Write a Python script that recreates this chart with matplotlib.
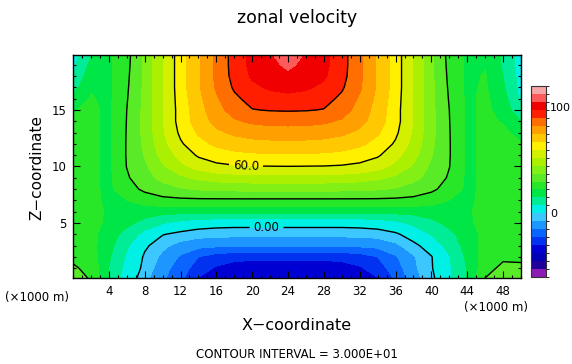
import matplotlib
matplotlib.use("Agg")
import matplotlib.pyplot as plt
import numpy as np
from matplotlib.colors import ListedColormap, BoundaryNorm
from matplotlib.ticker import MultipleLocator

# grid coordinates (x1000 m)
x_coord = [0, 2, 4, 6, 8, 10, 12, 14, 16, 18, 20, 22, 24,
           26, 28, 30, 32, 34, 36, 38, 40, 42, 44, 46, 48, 50]
z_coord = [0, 1, 2, 3, 4, 5, 6, 7, 8, 9, 10,
           11, 12, 13, 14, 15, 16, 17, 18, 19, 20]

# zonal velocity, one row per z level (bottom to top)
u_z00 = [34, 29.5, 14, 3.5, -3, -7.5, -11, -16.5, -18.5, -19.2, -19.5, -19.5, -19.5,
         -19.5, -19.5, -19.3, -18.8, -16.5, -11.5, -6, -1.5, 6, 15.5, 30.5, 35, 35]
u_z01 = [31, 28, 15, 5, -1.5, -6.5, -10, -14, -16.5, -17.6, -18, -18.2, -18.2,
         -18.2, -18, -17.6, -16.5, -14, -10, -5, -0.5, 6.5, 15.5, 27, 32, 32]
u_z02 = [28.5, 26, 16, 6.5, -0.8, -5, -8.5, -12, -14, -14.8, -15.1, -15.1, -15.1,
         -15.1, -15.1, -14.8, -14, -12, -8.5, -4.5, -0.3, 7, 16.5, 26, 28.5, 28]
u_z03 = [27, 25, 17.5, 8.5, 1, -3, -5.5, -6.8, -7.2, -7.4, -7.4, -7.4, -7.4,
         -7.4, -7.4, -7.4, -7.2, -6.8, -5, -1.5, 3, 10, 18, 25, 27.5, 27.5]
u_z04 = [26.5, 24.5, 19, 12, 5, 0.3, -1.5, -2.5, -2.8, -3, -3, -3, -3,
         -3, -3, -3, -2.8, -2.5, -1, 3, 8, 13, 19, 24.5, 26.5, 26.5]
u_z05 = [26, 25, 21, 17, 12.5, 8, 5, 3, 2.2, 2, 2, 2, 2,
         2, 2, 2, 2.2, 3, 5.5, 9, 13, 17, 21, 25, 26, 26]
u_z06 = [26, 25, 21.5, 19.5, 18.5, 17.5, 17.2, 17, 17, 17, 17, 17, 17,
         17, 17, 17, 17, 17, 17.2, 17.5, 18.5, 19.5, 21.5, 25, 26, 26]
u_z07 = [25, 24.5, 21, 22.5, 26, 27.8, 28.3, 28.5, 28.5, 28.5, 28.5, 28.5, 28.5,
         28.5, 28.5, 28.5, 28.5, 28.5, 28.3, 27.8, 26, 22.5, 21, 24.5, 25, 25]
u_z08 = [25, 24, 21, 27, 31.5, 34.5, 36.8, 38.2, 39, 39.3, 39.5, 39.5, 39.5,
         39.5, 39.5, 39.3, 39, 38.2, 36.8, 34.5, 31.5, 27, 21, 24, 25, 25]
u_z09 = [25, 24, 21, 29, 35, 39.5, 43.5, 46.5, 48.3, 49.3, 49.8, 50, 50,
         50, 49.8, 49.3, 48.3, 46.5, 43.5, 39.5, 35, 29, 21, 24, 25, 25]
u_z10 = [25, 24, 21, 30.2, 36, 44, 50.5, 55.5, 58.2, 59.3, 59.7, 59.8, 59.9,
         59.8, 59.7, 59.3, 58.2, 55.5, 50.5, 44, 36, 30.2, 21, 24, 25, 25]
u_z11 = [25, 24, 21, 30.5, 38, 47.5, 55, 61, 63.8, 65.3, 66.2, 66.5, 66.5,
         66.5, 66.2, 65.3, 63.8, 61, 55, 47.5, 38, 30.5, 21, 24, 25, 24.5]
u_z12 = [25, 24, 21, 30.5, 39, 50, 59, 65, 69, 71.3, 72.5, 73, 73,
         73, 72.5, 71.3, 69, 65, 59, 50, 39, 30.5, 21, 24, 25, 23]
u_z13 = [24, 24, 21, 30.4, 39.5, 51.5, 61.5, 68.5, 73.5, 76.5, 78.2, 78.8, 79,
         78.8, 78.2, 76.5, 73.5, 68.5, 61.5, 51.5, 39.5, 30.4, 21, 24, 24, 20]
u_z14 = [23, 24, 21, 30.2, 39.5, 52, 63, 71, 77.5, 81.5, 83.8, 84.8, 85,
         84.8, 83.8, 81.5, 77.5, 71, 63, 52, 39.5, 30.2, 21, 24, 22, 15]
u_z15 = [22, 24, 21, 30, 39.5, 52, 63, 72, 79.5, 86, 89.7, 90.4, 90.6,
         90.4, 89.7, 86, 79.5, 72, 63, 52, 39.5, 30, 21, 24, 20, 9]
u_z16 = [18, 23, 21, 29.5, 39, 52, 63.5, 73, 81.5, 88.5, 92.5, 94.8, 95.5,
         94.8, 92.5, 88.5, 81.5, 73, 63.5, 52, 39, 29.5, 21, 24, 18, 6]
u_z17 = [12, 22, 21, 29, 39, 52, 64, 74, 83.5, 91, 96, 98.5, 99.5,
         98.5, 96, 91, 83.5, 74, 64, 52, 39, 29, 21, 23.5, 16, 5]
u_z18 = [7, 20, 21, 28.5, 39, 52, 64, 74, 84, 92.5, 98.5, 102, 103.5,
         102, 98.5, 92.5, 84, 74, 64, 52, 39, 28.5, 21, 23, 15, 4.5]
u_z19 = [5.5, 17, 21, 28, 39, 52, 64, 74, 84, 93, 99.5, 103, 106.5,
         103, 99.5, 93, 84, 74, 64, 52, 39, 28, 21, 22, 14, 4]
u_z20 = [4, 14, 21, 27.5, 39, 52, 64, 74, 84, 93, 100, 104.5, 108.5,
         104.5, 100, 93, 84, 74, 64, 52, 39, 27.5, 21, 20, 14, 4]

u_rows = [u_z00, u_z01, u_z02, u_z03, u_z04, u_z05, u_z06, u_z07, u_z08, u_z09,
          u_z10, u_z11, u_z12, u_z13, u_z14, u_z15, u_z16, u_z17, u_z18, u_z19,
          u_z20]

# shading bands (equal-size boxes on the colour bar) and line levels
fill_levels = [-32, -28, -24, -20, -16, -12, -8, -4, 0, 7.5, 15, 22.5, 30,
               37.5, 45, 52.5, 60, 67.5, 75, 82.5, 90, 97.5, 105, 112.5, 120]
fill_colors = ["#8c1cb4", "#20009a", "#0000b4", "#0000d2", "#0032f0", "#0a64ff",
               "#1e96ff", "#3cc8ff", "#00f0e6", "#00ec96", "#00e646", "#28e628",
               "#5aeb28", "#82f014", "#aaf000", "#d2f000", "#fff000", "#ffc800",
               "#ffa000", "#ff6e00", "#ff1e00", "#f00000", "#ff5a5a", "#f5a5a5"]
plain_line_levels = [30, 90]
labelled_line_levels = [0, 60]
line_label_text = {0: "0.00", 60: "60.0"}
cbar_ticks = [0, 100]

X, Z = np.meshgrid(np.array(x_coord, float), np.array(z_coord, float))
U = np.array(u_rows, float)

cmap = ListedColormap(fill_colors)
norm = BoundaryNorm(fill_levels, cmap.N)

W, H = 572, 364
fig = plt.figure(figsize=(W / 100, H / 100), dpi=100)
ax = fig.add_axes([73 / W, 1 - 278 / H, 448 / W, 223 / H])

cf = ax.contourf(X, Z, U, levels=fill_levels, cmap=cmap, norm=norm)
ax.contour(X, Z, U, levels=plain_line_levels, colors="black", linewidths=1.0)
cs = ax.contour(X, Z, U, levels=labelled_line_levels, colors="black",
                linewidths=1.0)
ax.clabel(cs, fmt=line_label_text, manual=[(21.6, 4.7), (19.3, 10.0)],
          fontsize=8.5, inline=True, inline_spacing=4)

ax.set_xlim(0, 50)
ax.set_ylim(0.13, 19.87)
ax.set_xticks(list(range(4, 49, 4)))
ax.set_yticks([5, 10, 15])
ax.xaxis.set_minor_locator(MultipleLocator(1))
ax.yaxis.set_minor_locator(MultipleLocator(1))
ax.tick_params(which="both", direction="in", top=True, right=True,
               width=0.8, labelsize=8.5)
ax.tick_params(which="major", length=5, pad=5)
ax.tick_params(which="minor", length=2.5)
for sp in ax.spines.values():
    sp.set_linewidth(1.0)

cax = fig.add_axes([531 / W, 1 - 277 / H, 15 / W, 191 / H])
cb = fig.colorbar(cf, cax=cax, ticks=cbar_ticks)
cb.outline.set_linewidth(0.8)
cb.outline.set_edgecolor("#333333")
cax.tick_params(length=0, labelsize=8, pad=3)

fig.text(297 / W, 1 - 18 / H, "zonal velocity", ha="center", va="center",
         fontsize=12.5)
fig.text(37 / W, 1 - 168 / H, "Z\u2212coordinate", ha="center", va="center",
         rotation=90, fontsize=11)
fig.text(297 / W, 1 - 325 / H, "X\u2212coordinate", ha="center", va="center",
         fontsize=11.5)
fig.text(37 / W, 1 - 298 / H, "(\u00d71000 m)", ha="center", va="center",
         fontsize=8.5)
fig.text(496 / W, 1 - 307 / H, "(\u00d71000 m)", ha="center", va="center",
         fontsize=8.5)
fig.text(297 / W, 1 - 355 / H, "CONTOUR INTERVAL = 3.000E+01", ha="center",
         va="center", fontsize=8.5)

fig.savefig("out.png", dpi=100)
